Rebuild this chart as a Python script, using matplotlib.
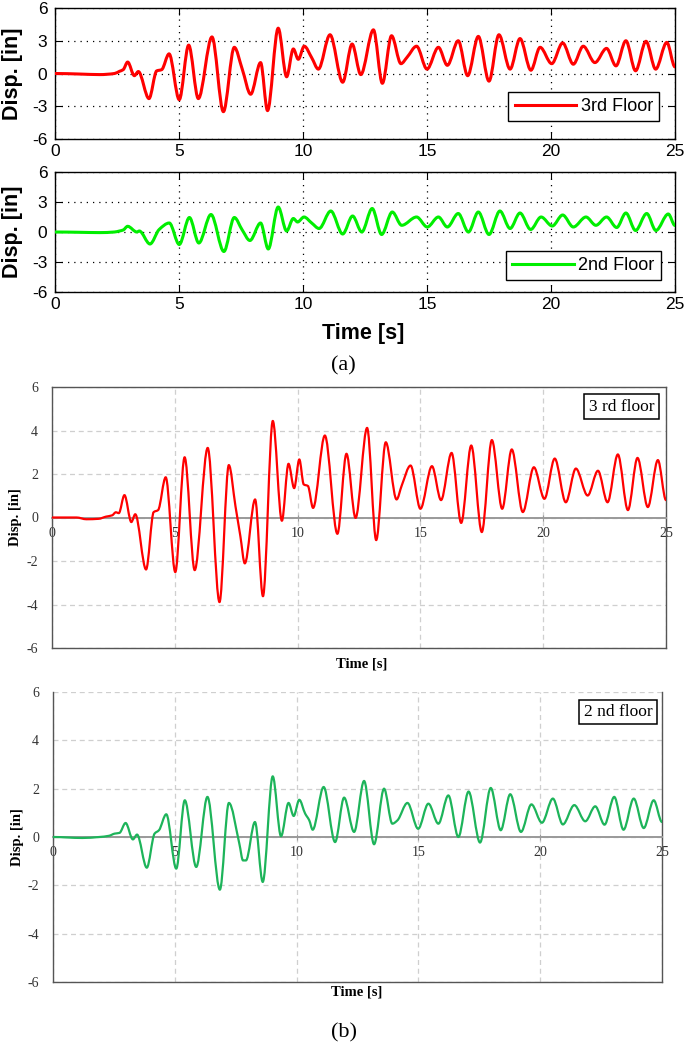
import numpy as np
import matplotlib
matplotlib.use('Agg')
import matplotlib.pyplot as plt
from matplotlib.path import Path
from matplotlib.patches import PathPatch
from matplotlib.lines import Line2D

plt.rcParams['axes.unicode_minus'] = False

# ---------------- data ----------------
# (a) top: 3rd floor
t_a3 = [0, 1.0, 1.8, 2.4, 2.6, 2.75, 2.93, 3.20, 3.36, 3.79, 4.10, 4.30, 4.60, 5.01, 5.39, 5.78, 6.33, 6.79,
        7.23, 7.55, 7.89, 8.29, 8.57, 9.0, 9.34, 9.61, 9.81, 10.05, 10.35, 10.62, 11.09, 11.6, 11.98, 12.33,
        12.84, 13.2, 13.57, 13.95, 14.2, 14.58, 15.0, 15.46, 15.82, 16.26, 16.64, 17.07, 17.5, 17.9, 18.35,
        18.75, 19.19, 19.56, 20.03, 20.47, 20.9, 21.3, 21.77, 22.24, 22.62, 23.02, 23.41, 23.83, 24.22, 24.67, 25.0]
d_a3 = [0, -0.05, -0.1, 0.0, 0.2, 0.35, 1.05, -0.2, 0.18, -2.3, 0.24, 0.35, 1.8, -2.4, 2.6, -2.3, 3.35, -3.5,
        2.4, 0.4, -1.9, 1.0, -3.4, 4.15, -0.3, 2.25, 1.3, 2.5, 1.45, 0.4, 3.55, -0.8, 2.7, -0.1,
        4.0, -0.9, 3.46, 0.9, 1.5, 2.5, 0.4, 2.4, 0.75, 3.0, -0.2, 3.4, -0.7, 3.55, 0.4,
        3.2, 0.3, 2.4, 0.9, 2.8, 0.85, 2.5, 1.0, 2.3, 0.7, 3.0, 0.25, 2.95, 0.4, 2.85, 0.6]
# (a) bottom: 2nd floor
t_a2 = [0, 1.0, 1.8, 2.4, 2.6, 2.75, 2.93, 3.3, 3.4, 3.83, 4.2, 4.61, 5.01, 5.42, 5.8, 6.29, 6.81, 7.23,
        7.55, 7.86, 8.29, 8.6, 9.0, 9.34, 9.61, 9.78, 10.04, 10.35, 10.65, 11.12, 11.6, 12.0, 12.37, 12.79,
        13.17, 13.6, 13.98, 14.58, 15.01, 15.46, 15.82, 16.26, 16.67, 17.07, 17.5, 17.94, 18.35, 18.75,
        19.18, 19.6, 20.05, 20.47, 20.9, 21.41, 21.81, 22.24, 22.65, 23.02, 23.41, 23.86, 24.23, 24.73, 25.0]
d_a2 = [0, -0.03, -0.06, 0.0, 0.1, 0.2, 0.57, 0.0, 0.1, -1.2, 0.25, 0.9, -1.25, 1.45, -1.1, 1.75, -1.95, 1.45,
        0.2, -0.85, 0.9, -1.7, 2.5, 0.1, 1.35, 1.0, 1.5, 0.9, 0.35, 2.1, -0.2, 1.6, 0.0, 2.35,
        -0.25, 2.0, 0.67, 1.5, 0.5, 1.5, 0.5, 1.85, 0.0, 2.0, -0.25, 2.1, 0.35, 1.9,
        0.25, 1.5, 0.6, 1.7, 0.5, 1.5, 0.67, 1.5, 0.45, 1.9, 0.15, 1.85, 0.15, 1.8, 0.65]
# (b) top: 3 rd floor
t_b3 = [0, 1.0, 1.4, 1.9, 2.2, 2.45, 2.6, 2.72, 2.95, 3.23, 3.39, 3.83, 4.14, 4.32, 4.63, 5.02, 5.40, 5.81,
        6.34, 6.82, 7.20, 7.47, 7.67, 7.85, 8.27, 8.59, 8.99, 9.36, 9.63, 9.86, 10.07, 10.25, 10.42, 10.63,
        11.11, 11.62, 11.99, 12.36, 12.83, 13.20, 13.59, 14.03, 14.24, 14.60, 15.00, 15.47, 15.84, 16.27,
        16.66, 17.07, 17.50, 17.91, 18.33, 18.72, 19.17, 19.62, 20.05, 20.47, 20.92, 21.33, 21.81, 22.23,
        22.62, 23.04, 23.45, 23.84, 24.26, 24.67, 25.0]
d_b3 = [0, 0.0, -0.08, -0.06, 0.04, 0.1, 0.24, 0.2, 1.03, -0.21, 0.15, -2.39, 0.25, 0.34, 1.85, -2.51, 2.77, -2.42,
        3.2, -3.89, 2.41, 0.52, -0.86, -2.11, 0.83, -3.62, 4.44, -0.15, 2.47, 1.35, 2.67, 1.52, 1.45, 0.44,
        3.77, -0.75, 2.93, -0.02, 4.12, -1.04, 3.46, 0.83, 1.47, 2.39, 0.4, 2.36, 0.8, 2.97,
        -0.25, 3.31, -0.67, 3.56, 0.4, 3.13, 0.25, 2.31, 0.86, 2.71, 0.7, 2.25, 1.01, 2.15,
        0.7, 2.9, 0.34, 2.74, 0.48, 2.64, 0.8]
# (b) bottom: 2 nd floor
t_b2 = [0, 1.2, 1.9, 2.3, 2.53, 2.73, 2.98, 3.28, 3.45, 3.85, 4.17, 4.35, 4.65, 5.06, 5.41, 5.88, 6.34, 6.85,
        7.22, 7.65, 7.8, 7.92, 8.29, 8.61, 9.02, 9.36, 9.67, 9.88, 10.11, 10.35, 10.52, 10.66, 11.11, 11.58,
        11.95, 12.36, 12.77, 13.18, 13.59, 13.93, 14.14, 14.55, 14.99, 15.41, 15.82, 16.23, 16.64, 17.06,
        17.53, 17.97, 18.38, 18.77, 19.21, 19.64, 20.07, 20.52, 20.93, 21.40, 21.85, 22.26, 22.64, 23.04,
        23.42, 23.84, 24.25, 24.66, 25.0]
d_b2 = [0, -0.04, 0.0, 0.05, 0.14, 0.17, 0.58, -0.1, 0.1, -1.27, 0.14, 0.28, 0.94, -1.31, 1.52, -1.24, 1.66, -2.18,
        1.41, -0.28, -0.97, -0.97, 0.62, -1.86, 2.51, 0.03, 1.41, 0.87, 1.54, 0.97, 0.69, 0.3, 2.07, -0.21,
        1.63, 0.21, 2.32, -0.3, 2.0, 0.55, 0.69, 1.41, 0.34, 1.38, 0.55, 1.72, 0.0, 1.88,
        -0.23, 2.03, 0.28, 1.77, 0.21, 1.35, 0.59, 1.59, 0.52, 1.32, 0.65, 1.27, 0.51, 1.66,
        0.3, 1.59, 0.37, 1.52, 0.62]

xticks_all = [0, 5, 10, 15, 20, 25]
yticks_a = [-6, -3, 0, 3, 6]
yticks_b = [-6, -4, -2, 0, 2, 4, 6]
labels_a = ['3rd Floor', '2nd Floor']
labels_b = ['3 rd floor', '2 nd floor']
xlabel = 'Time [s]'
ylabel = 'Disp. [in]'

SANS = ['Liberation Sans', 'DejaVu Sans']
SERIF = ['Liberation Serif', 'DejaVu Serif']


def smooth_path(t, v):
    """Smooth Bezier path through the read points (shape-preserving tangents)."""
    t = np.asarray(t, float)
    v = np.asarray(v, float)
    h = np.diff(t)
    d = np.diff(v) / h
    n = len(t)
    m = np.zeros(n)
    for i in range(1, n - 1):
        if d[i - 1] * d[i] > 0:
            w1 = 2 * h[i] + h[i - 1]
            w2 = h[i] + 2 * h[i - 1]
            m[i] = (w1 + w2) / (w1 / d[i - 1] + w2 / d[i])
    verts = [(t[0], v[0])]
    codes = [Path.MOVETO]
    for i in range(n - 1):
        verts += [(t[i] + h[i] / 3, v[i] + m[i] * h[i] / 3),
                  (t[i + 1] - h[i] / 3, v[i + 1] - m[i + 1] * h[i] / 3),
                  (t[i + 1], v[i + 1])]
        codes += [Path.CURVE4] * 3
    return Path(verts, codes)


def draw_series(ax, t, v, color, lw):
    ax.add_patch(PathPatch(smooth_path(t, v), fill=False, edgecolor=color, lw=lw,
                           joinstyle='round', capstyle='round', zorder=3))


W, H = 685, 1048
fig = plt.figure(figsize=(W / 100, H / 100), dpi=100)


def rect(l, t, r, b):
    return [l / W, 1 - b / H, (r - l) / W, (b - t) / H]


# ---------------- (a) MATLAB style ----------------
def style_a(ax, label, color, t, v, leg_center):
    ax.set_xlim(0, 25)
    ax.set_ylim(-6, 6)
    ax.set_xticks(xticks_all)
    ax.set_yticks(yticks_a)
    ax.tick_params(direction='in', top=True, right=True, length=5, width=0.8,
                   labelsize=12.5, colors='black')
    ax.tick_params(axis='x', pad=3.5)
    ax.tick_params(axis='y', pad=5.5)
    for lab in ax.get_xticklabels() + ax.get_yticklabels():
        lab.set_family(SANS)
    ax.grid(True, color='black', linestyle=(0, (1, 4)), linewidth=0.9)
    for s in ax.spines.values():
        s.set_linewidth(1.0)
        s.set_color('black')
    draw_series(ax, t, v, color, 2.2)
    h = Line2D([], [], color=color, lw=2.2)
    leg = ax.legend([h], [label], loc='center', bbox_to_anchor=leg_center,
                    prop={'family': SANS, 'size': 13}, frameon=True, fancybox=False,
                    edgecolor='black', framealpha=1, borderpad=0.35, handlelength=3.4,
                    handletextpad=0.25, borderaxespad=0)
    leg.get_frame().set_linewidth(1.0)
    ax.set_ylabel(ylabel, fontsize=15.5, fontweight='bold', family=SANS, va='center')


ax1 = fig.add_axes(rect(55, 8, 675, 139))
style_a(ax1, labels_a[0], '#ff0000', t_a3, d_a3, (0.853, 0.248))
ax1.yaxis.set_label_coords((12.5 - 55) / 620, 0.5)

ax2 = fig.add_axes(rect(55, 172, 675, 292))
style_a(ax2, labels_a[1], '#00ee00', t_a2, d_a2, (0.852, 0.221))
ax2.yaxis.set_label_coords((12.5 - 55) / 620, 0.5)
ax2.set_xlabel(xlabel, fontsize=15.5, fontweight='bold', family=SANS, va='center')
ax2.xaxis.set_label_coords((363 - 55) / 620, (292 - 333) / 120)

fig.text(343 / W, 1 - 366 / H, '(a)', family=SERIF, fontsize=16, ha='center', va='center')


# ---------------- (b) spreadsheet style ----------------
def style_b(ax, label, color, t, v, box_center, top_visible):
    ax.set_xlim(0, 25)
    ax.set_ylim(-6, 6)
    ax.set_xticks(xticks_all)
    ax.set_yticks(yticks_b)
    ax.grid(True, color='#cfcfcf', linestyle=(0, (4, 3)), linewidth=0.9, zorder=0)
    ax.set_axisbelow(True)
    for name in ['left', 'right', 'top']:
        ax.spines[name].set_color('#555555')
        ax.spines[name].set_linewidth(1.0)
    ax.spines['top'].set_visible(top_visible)
    ax.spines['bottom'].set_position(('data', 0))
    ax.spines['bottom'].set_color('#999999')
    ax.spines['bottom'].set_linewidth(1.4)
    ax.axhline(-6, color='#555555', lw=1.0, zorder=4, clip_on=False)
    ax.tick_params(axis='x', direction='inout', length=5, width=0.8, colors='#999999',
                   labelcolor='#333333', labelsize=10, pad=4)
    ax.tick_params(axis='y', length=0, labelcolor='#333333', labelsize=10, pad=10)
    for lab in ax.get_xticklabels() + ax.get_yticklabels():
        lab.set_family(SERIF)
    draw_series(ax, t, v, color, 1.6)
    ax.text(box_center[0], box_center[1], label, transform=ax.transAxes, ha='center', va='center',
            family=SERIF, fontsize=12.5,
            bbox=dict(boxstyle='square,pad=0.25', fc='white', ec='black', lw=1.1), zorder=6)
    ax.set_ylabel(ylabel, fontsize=10.5, fontweight='bold', family=SERIF, va='center')
    ax.set_xlabel(xlabel, fontsize=10.5, fontweight='bold', family=SERIF, va='center')


ax3 = fig.add_axes(rect(52, 387, 666, 648))
style_b(ax3, labels_b[0], '#ff0000', t_b3, d_b3, (0.9275, 0.925), True)
ax3.yaxis.set_label_coords((15 - 52) / 614, 0.5)
ax3.xaxis.set_label_coords((362 - 52) / 614, (648 - 664) / 261)

ax4 = fig.add_axes(rect(53, 692, 662, 982))
style_b(ax4, labels_b[1], '#1db45a', t_b2, d_b2, (0.928, 0.931), False)
ax4.yaxis.set_label_coords((18 - 53) / 609, 0.5)
ax4.xaxis.set_label_coords((357 - 53) / 609, (982 - 992) / 290)

fig.text(344 / W, 1 - 1033 / H, '(b)', family=SERIF, fontsize=16, ha='center', va='center')

fig.savefig('out.png', dpi=100)
